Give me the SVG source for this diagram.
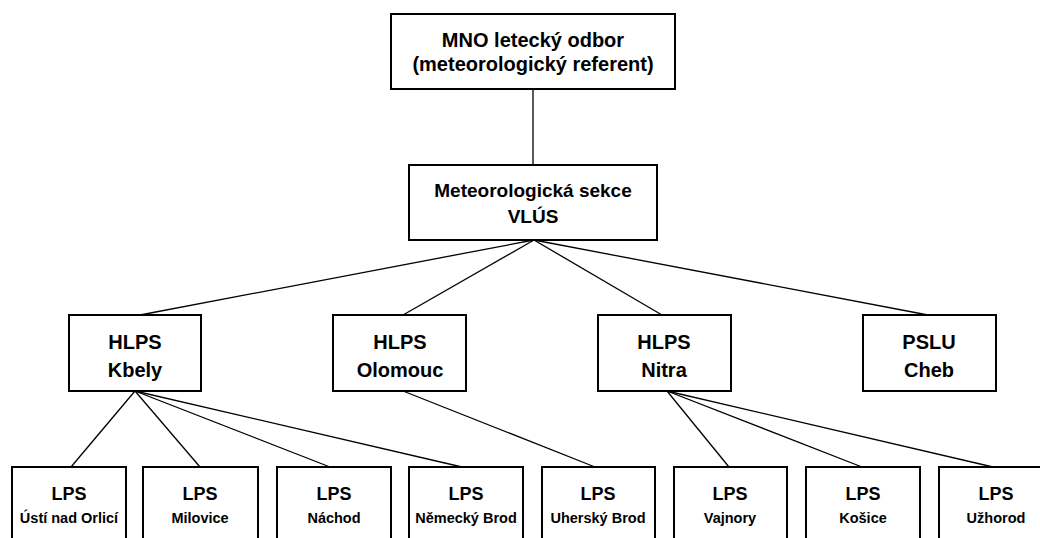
<svg xmlns="http://www.w3.org/2000/svg" width="1040" height="538" viewBox="0 0 1040 538">
<style>
.box{fill:#fff;stroke:#000;stroke-width:2}
.t{font-family:"Liberation Sans",Arial,sans-serif;font-weight:bold;fill:#000;text-anchor:middle}
.big{font-size:20px}
.mid{font-size:19px}
.l3{font-size:20px}
.lps{font-size:18px}
.sm{font-size:14.5px}
.c{stroke:#000;stroke-width:1.3;fill:none}
</style>
<rect width="1040" height="538" fill="#fff"/>
<g id="connectors">
<line class="c" x1="533" y1="89" x2="533" y2="165"/>
<line class="c" x1="534" y1="240" x2="140" y2="315"/>
<line class="c" x1="534" y1="240" x2="403" y2="315"/>
<line class="c" x1="534" y1="240" x2="662" y2="315"/>
<line class="c" x1="534" y1="240" x2="928" y2="315"/>
<line class="c" x1="135" y1="391" x2="71" y2="467"/>
<line class="c" x1="135" y1="391" x2="200" y2="467"/>
<line class="c" x1="135" y1="391" x2="330" y2="467"/>
<line class="c" x1="135" y1="391" x2="462" y2="467"/>
<line class="c" x1="403" y1="391" x2="595" y2="467"/>
<line class="c" x1="667" y1="391" x2="729" y2="467"/>
<line class="c" x1="667" y1="391" x2="862" y2="467"/>
<line class="c" x1="667" y1="391" x2="993" y2="467"/>
</g>
<g id="mno">
<rect class="box" x="391" y="14" width="284" height="75"/>
<text class="t big" x="533" y="47">MNO letecký odbor</text>
<text class="t big" x="533" y="71">(meteorologický referent)</text>
</g>
<g id="vlus">
<rect class="box" x="409" y="165" width="248" height="75"/>
<text class="t mid" x="533" y="197">Meteorologická sekce</text>
<text class="t mid" x="533" y="223">VLÚS</text>
</g>
<g id="hlps-kbely">
<rect class="box" x="69" y="315" width="132" height="76"/>
<text class="t l3" x="135" y="349">HLPS</text>
<text class="t l3" x="135" y="377">Kbely</text>
</g>
<g id="hlps-olomouc">
<rect class="box" x="333" y="315" width="133" height="76"/>
<text class="t l3" x="400" y="349">HLPS</text>
<text class="t l3" x="400" y="377">Olomouc</text>
</g>
<g id="hlps-nitra">
<rect class="box" x="598" y="315" width="133" height="76"/>
<text class="t l3" x="664" y="349">HLPS</text>
<text class="t l3" x="664" y="377">Nitra</text>
</g>
<g id="pslu-cheb">
<rect class="box" x="863" y="315" width="133" height="76"/>
<text class="t l3" x="929" y="349">PSLU</text>
<text class="t l3" x="929" y="377">Cheb</text>
</g>
<g id="lps-usti">
<rect class="box" x="12" y="467" width="114" height="80"/>
<text class="t lps" x="69" y="500">LPS</text>
<text class="t sm" x="69" y="523">Ústí nad Orlicí</text>
</g>
<g id="lps-milovice">
<rect class="box" x="143" y="467" width="115" height="80"/>
<text class="t lps" x="200" y="500">LPS</text>
<text class="t sm" x="200" y="523">Milovice</text>
</g>
<g id="lps-nachod">
<rect class="box" x="277" y="467" width="114" height="80"/>
<text class="t lps" x="334" y="500">LPS</text>
<text class="t sm" x="334" y="523">Náchod</text>
</g>
<g id="lps-nemecky-brod">
<rect class="box" x="409" y="467" width="114" height="80"/>
<text class="t lps" x="466" y="500">LPS</text>
<text class="t sm" x="466" y="523">Německý Brod</text>
</g>
<g id="lps-uhersky-brod">
<rect class="box" x="542" y="467" width="113" height="80"/>
<text class="t lps" x="598" y="500">LPS</text>
<text class="t sm" x="598" y="523">Uherský Brod</text>
</g>
<g id="lps-vajnory">
<rect class="box" x="674" y="467" width="113" height="80"/>
<text class="t lps" x="730" y="500">LPS</text>
<text class="t sm" x="730" y="523">Vajnory</text>
</g>
<g id="lps-kosice">
<rect class="box" x="806" y="467" width="114" height="80"/>
<text class="t lps" x="863" y="500">LPS</text>
<text class="t sm" x="863" y="523">Košice</text>
</g>
<g id="lps-uzhorod">
<rect class="box" x="939" y="467" width="114" height="80"/>
<text class="t lps" x="996" y="500">LPS</text>
<text class="t sm" x="996" y="523">Užhorod</text>
</g>
</svg>
